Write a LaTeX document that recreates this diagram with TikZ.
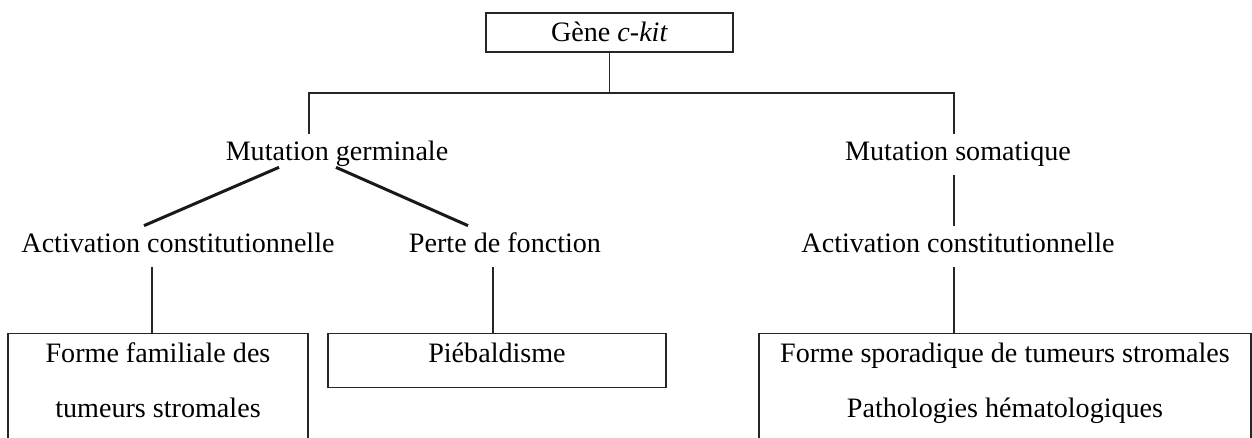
\documentclass[tikz,border=0pt]{standalone}
\usepackage{fontspec}
\setmainfont{Liberation Serif}
\usetikzlibrary{calc}

\begin{document}
\begin{tikzpicture}[x=0.02cm,y=-0.02cm,
	txt/.style={font=\fontsize{16pt}{31.3pt}\selectfont,inner xsep=0.1cm,inner ysep=0.16cm,text height=0.38cm,text depth=0.12cm},
	box/.style={txt,draw=black!85,line width=0.03cm},
	link/.style={draw=black!85,line width=0.03cm},
	slant/.style={draw=black!90,line width=0.06cm}]
	\useasboundingbox (0,0) rectangle (1252,438);
	\clip (0,0) rectangle (1252,438);
	%TOP
	\node[box,minimum width=4.94cm,minimum height=0.78cm,inner ysep=0cm,text depth=0cm] (gene) at (609.5,32.5) {Gène \textit{c-kit}};
	\path (gene.south) ++(0,40.5) coordinate (fork);
	%MUTATIONS
	\node[txt] (germ) at (337,154.5) {Mutation germinale};
	\node[txt] (soma) at (958,154.5) {Mutation somatique};
	\node[txt] (act1) at (178,246.5) {Activation constitutionnelle};
	\node[txt] (perte) at (505,246.5) {Perte de fonction};
	\node[txt] (act2) at (958,246.5) {Activation constitutionnelle};
	%DISEASES
	\node[box,anchor=north,text width=6cm,align=flush center,inner sep=0cm,text height=0.58cm,text depth=2cm] (fam) at (158,333) {Forme familiale des\\tumeurs stromales};
	\node[box,anchor=north,text width=6.76cm,align=flush center,inner sep=0cm,text height=0.58cm,text depth=0.5cm] (pieb) at (497,333) {Piébaldisme};
	\node[box,anchor=north,text width=9.84cm,align=flush center,inner sep=0cm,text height=0.58cm,text depth=2cm] (spor) at (1005,333) {Forme sporadique de tumeurs stromales\\Pathologies hématologiques};
	%LINKS
	\draw[link] (gene.south) -- (fork);
	\draw[link] ([xshift=-0.56cm]germ.north) |- (fork) -| ([xshift=-0.08cm]soma.north);
	\draw[slant] ([xshift=-1.16cm,yshift=0.16cm]germ.south) -- ([xshift=-0.68cm]act1.north);
	\draw[slant] ([xshift=-0.02cm,yshift=0.16cm]germ.south) -- ([xshift=-0.74cm]perte.north);
	\draw[link] ([xshift=-0.08cm]soma.south) -- ([xshift=-0.08cm]act2.north);
	\draw[link] ([xshift=-0.52cm]act1.south) -- ([xshift=-0.52cm]act1.south |- fam.north);
	\draw[link] ([xshift=-0.24cm]perte.south) -- ([xshift=-0.24cm]perte.south |- pieb.north);
	\draw[link] ([xshift=-0.08cm]act2.south) -- ([xshift=-0.08cm]act2.south |- spor.north);
\end{tikzpicture}
\end{document}
